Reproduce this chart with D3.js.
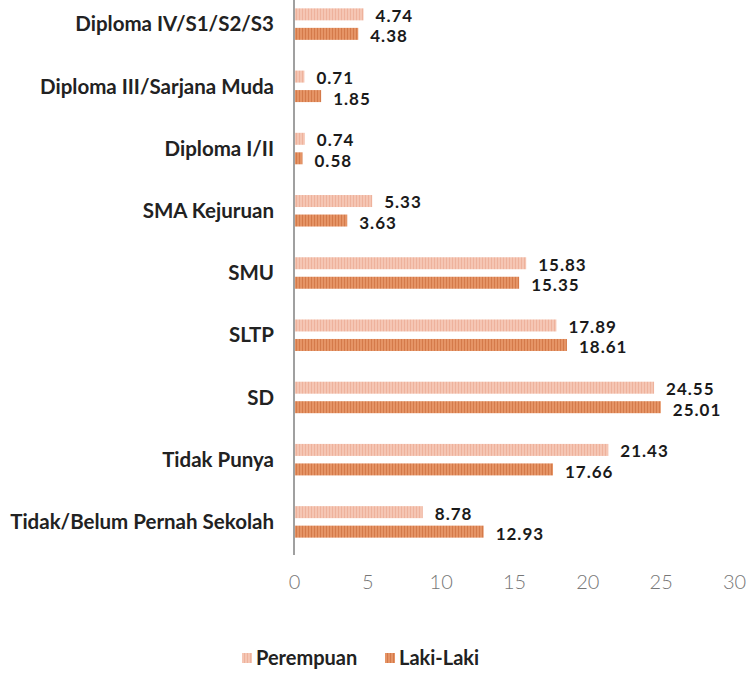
<!DOCTYPE html>
<html>
<head>
<meta charset="utf-8">
<script src="https://cdn.jsdelivr.net/npm/d3@7"></script>
<style>
  body { margin: 0; background: #fff; }
  svg { display: block; }
</style>
</head>
<body>
<script>
// categorías (de arriba a abajo)
var kategori = [
    "Diploma IV/S1/S2/S3",
    "Diploma III/Sarjana Muda",
    "Diploma I/II",
    "SMA Kejuruan",
    "SMU",
    "SLTP",
    "SD",
    "Tidak Punya",
    "Tidak/Belum Pernah Sekolah"
];
var perempuan = [4.74, 0.71, 0.74, 5.33, 15.83, 17.89, 24.55, 21.43, 8.78];
var lakiLaki = [4.38, 1.85, 0.58, 3.63, 15.35, 18.61, 25.01, 17.66, 12.93];
var ticksX = [0, 5, 10, 15, 20, 25, 30];
var seriesNames = ["Perempuan", "Laki-Laki"];

var width = 748;
var height = 673;
var fuente = "Lato, 'Open Sans', sans-serif";

var margen = { arriba: -7, abajo: 120, izquierda: 294, derecha: 14 };

var escalaX = d3.scaleLinear()
    .domain([0, 30])
    .range([margen.izquierda, width - margen.derecha]);

var escalaY = d3.scaleBand()
    .domain(kategori)
    .range([margen.arriba, height - margen.abajo]);

var svg = d3.select("body").append("svg")
    .attr("width", width)
    .attr("height", height);

// patrones rayados como en Excel
var defs = svg.append("defs");
function patron(id, fondo, raya) {
    var p = defs.append("pattern")
        .attr("id", id)
        .attr("patternUnits", "userSpaceOnUse")
        .attr("width", 3)
        .attr("height", 4);
    p.append("rect").attr("width", 3).attr("height", 4).attr("fill", fondo);
    p.append("rect").attr("x", 2).attr("width", 1).attr("height", 4).attr("fill", raya);
}
patron("patP", "#f5c6b4", "#eeb29c");
patron("patL", "#e59466", "#d47a4a");

var barH = 12;
var offset = 9.75;

var series = [
    { nombre: seriesNames[0], valores: perempuan, fill: "url(#patP)", dy: -offset, ajuste: 1.5 },
    { nombre: seriesNames[1], valores: lakiLaki, fill: "url(#patL)", dy: offset, ajuste: 2.5 }
];

series.forEach(function (s) {
    var datos = kategori.map(function (k, i) { return { k: k, v: s.valores[i] }; });
    svg.append("g").selectAll("rect")
        .data(datos)
        .join("rect")
        .attr("x", escalaX(0))
        .attr("y", d => escalaY(d.k) + escalaY.bandwidth() / 2 + s.dy - barH / 2)
        .attr("width", d => escalaX(d.v) - escalaX(0))
        .attr("height", barH)
        .attr("fill", s.fill);

    svg.append("g").selectAll("text")
        .data(datos)
        .join("text")
        .attr("x", d => escalaX(d.v) + 12)
        .attr("y", d => escalaY(d.k) + escalaY.bandwidth() / 2 + s.dy + s.ajuste)
        .attr("dy", "0.35em")
        .style("font-family", fuente)
        .style("font-weight", "bold")
        .style("font-size", "17px")
        .style("letter-spacing", "1px")
        .attr("fill", "#1a1a1a")
        .text(d => d.v.toFixed(2));
});

// eje vertical
svg.append("line")
    .attr("x1", escalaX(0)).attr("x2", escalaX(0))
    .attr("y1", 0).attr("y2", 555)
    .attr("stroke", "#a0a0a0")
    .attr("stroke-width", 2);

// nombres de categorías
svg.append("g").selectAll("text")
    .data(kategori)
    .join("text")
    .attr("x", 274)
    .attr("y", d => escalaY(d) + escalaY.bandwidth() / 2)
    .attr("dy", "0.35em")
    .attr("text-anchor", "end")
    .style("font-family", fuente)
    .style("font-weight", "bold")
    .style("font-size", "20.5px")
    .attr("fill", "#222")
    .text(d => d);

// eje X (solo etiquetas)
var ejeX = d3.axisBottom(escalaX)
    .tickValues(ticksX)
    .tickSize(0)
    .tickPadding(0);
var gX = svg.append("g")
    .attr("transform", "translate(0," + 575 + ")")
    .call(ejeX);
gX.select(".domain").remove();
gX.selectAll("text")
    .style("font-family", fuente)
    .style("font-weight", "300")
    .style("font-size", "20px")
    .attr("fill", "#777");

// leyenda
var leyenda = svg.append("g").attr("transform", "translate(242,658)");
var legPos = [0, 143];
series.forEach(function (s, i) {
    var g = leyenda.append("g").attr("transform", "translate(" + legPos[i] + ",0)");
    g.append("rect")
        .attr("x", 0).attr("y", -5)
        .attr("width", 10).attr("height", 10)
        .attr("fill", s.fill);
    g.append("text")
        .attr("x", 14)
        .attr("dy", "0.35em")
        .style("font-family", fuente)
        .style("font-weight", "bold")
        .style("font-size", "20px")
        .attr("fill", "#222")
        .text(s.nombre);
});
</script>
</body>
</html>
